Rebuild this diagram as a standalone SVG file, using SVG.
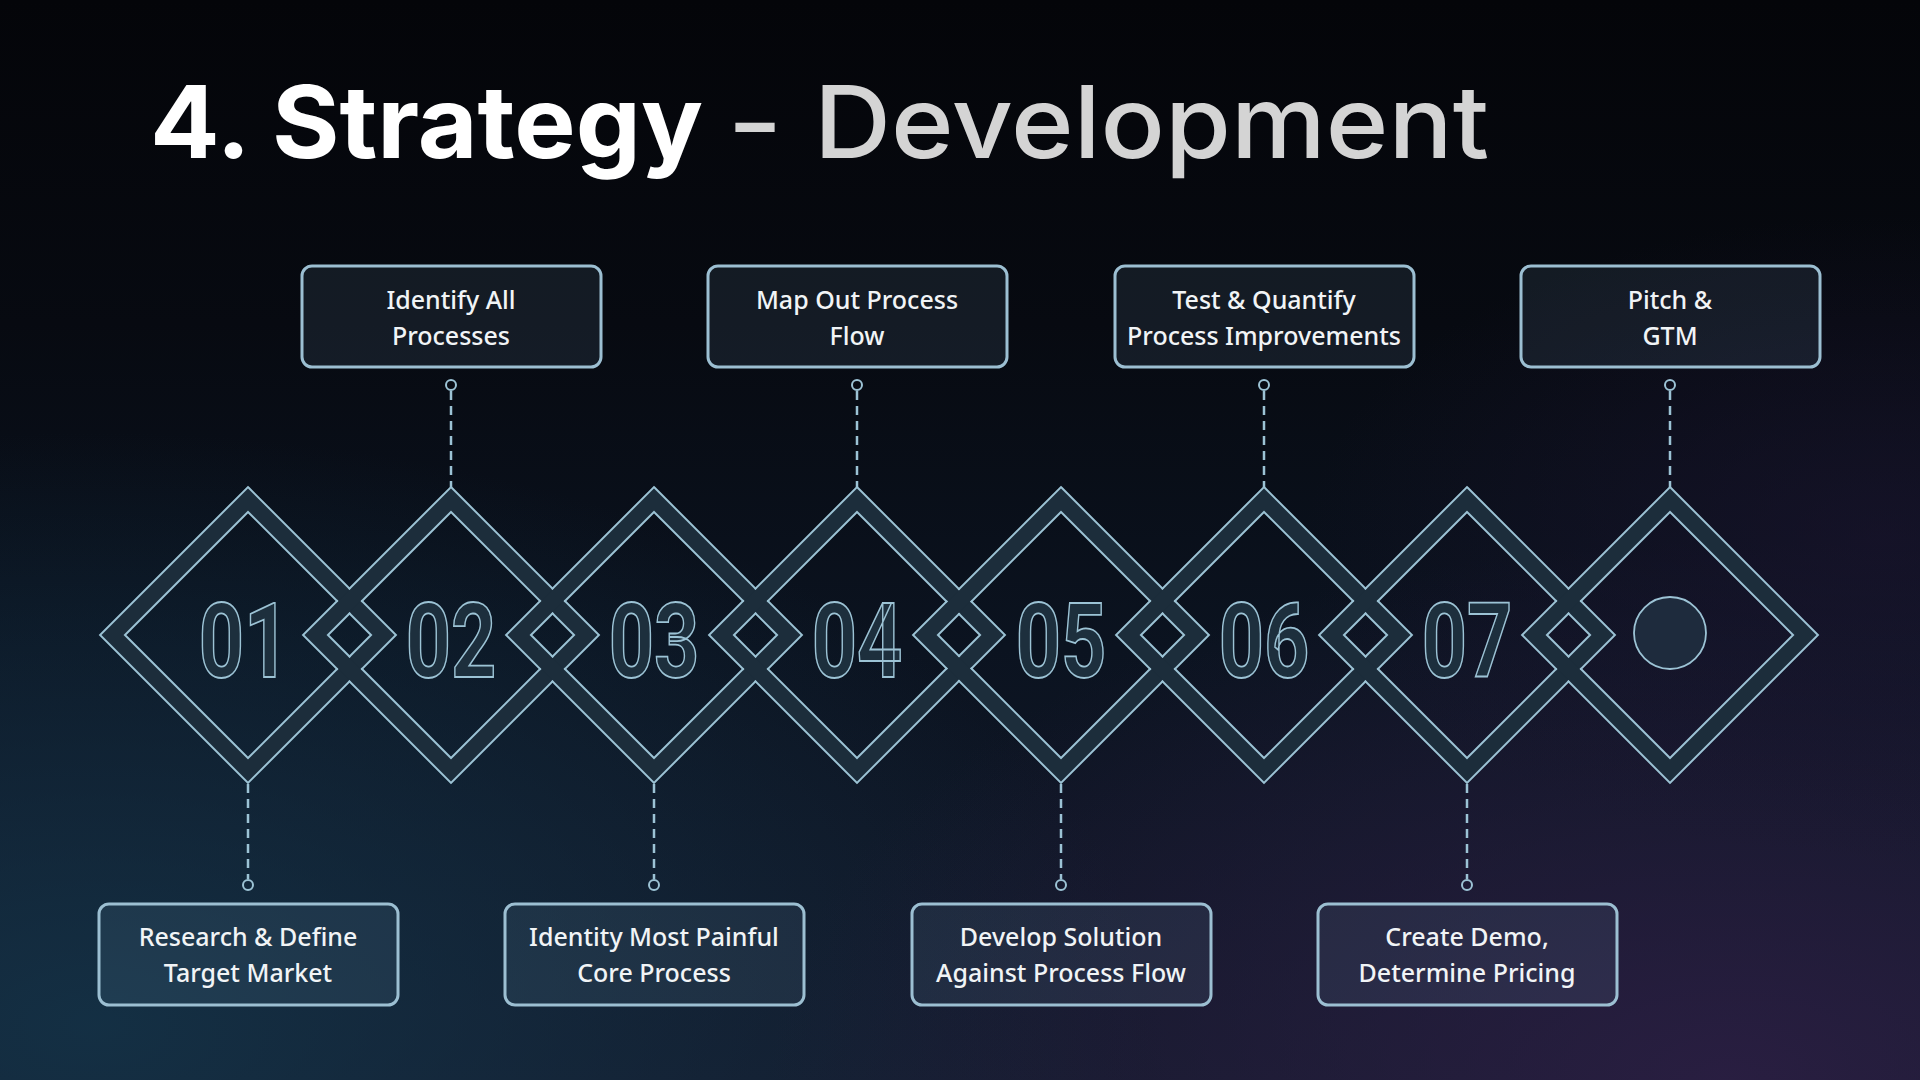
<svg xmlns="http://www.w3.org/2000/svg" width="1920" height="1080" viewBox="0 0 1920 1080">
<defs>
  <linearGradient id="bg" x1="0" y1="0" x2="0" y2="1">
    <stop offset="0" stop-color="#040509"/>
    <stop offset="0.3" stop-color="#070a11"/>
    <stop offset="0.6" stop-color="#0b1320"/>
    <stop offset="1" stop-color="#141a2c"/>
  </linearGradient>
  <radialGradient id="teal" cx="0.05" cy="0.95" r="0.55">
    <stop offset="0" stop-color="#14354a" stop-opacity="0.8"/>
    <stop offset="1" stop-color="#14354a" stop-opacity="0"/>
  </radialGradient>
  <radialGradient id="purple" cx="0.9" cy="1" r="0.5">
    <stop offset="0" stop-color="#2e1f46" stop-opacity="0.8"/>
    <stop offset="1" stop-color="#2e1f46" stop-opacity="0"/>
  </radialGradient>
  <radialGradient id="purple2" cx="0.98" cy="0.5" r="0.3">
    <stop offset="0" stop-color="#1c1430" stop-opacity="0.6"/>
    <stop offset="1" stop-color="#1c1430" stop-opacity="0"/>
  </radialGradient>
  <path id="band" fill-rule="evenodd" d="M0,-146.5 L146.5,0 L0,146.5 L-146.5,0 Z M0,-124.5 L124.5,0 L0,124.5 L-124.5,0 Z"/>
  <mask id="offband" maskUnits="userSpaceOnUse" x="0" y="0" width="1920" height="1080">
    <rect width="1920" height="1080" fill="#fff"/>
    <g fill="#000">
      <use href="#band" x="248" y="635"/>
      <use href="#band" x="451" y="635"/>
      <use href="#band" x="654" y="635"/>
      <use href="#band" x="857" y="635"/>
      <use href="#band" x="1061" y="635"/>
      <use href="#band" x="1264" y="635"/>
      <use href="#band" x="1467" y="635"/>
      <use href="#band" x="1670" y="635"/>
    </g>
  </mask>
  <style>
    .ringfill { fill:#1c2d3b; }
    .ringline { fill:none; stroke:#9cc3d5; stroke-width:4; }
    .num { font-family:Roboto,"Noto Sans",sans-serif; font-weight:700; font-size:104px; fill:#1d2f3d; stroke:#9cc3d5; stroke-width:1.8; text-anchor:middle; }
    .box { fill:#8cbcd4; fill-opacity:0.1; stroke:#9cbfd2; stroke-width:3; }
    .lbl { font-family:"Noto Sans","Open Sans",sans-serif; font-size:25px; font-weight:500; fill:#f1f4f6; text-anchor:middle; }
    .dash { fill:none; stroke:#9cc3d5; stroke-width:2.5; stroke-dasharray:9 6; }
    .pin { fill:none; stroke:#9cc3d5; stroke-width:2; }
    .t1 { font-family:Inter,"Noto Sans",sans-serif; font-weight:700; font-size:100px; fill:#ffffff; }
    .t2 { font-family:Inter,"Noto Sans",sans-serif; font-weight:500; font-size:100px; fill:#d4d4d4; }
  </style>
</defs>

<rect width="1920" height="1080" fill="url(#bg)"/>
<rect width="1920" height="1080" fill="url(#teal)"/>
<rect width="1920" height="1080" fill="url(#purple)"/>
<rect width="1920" height="1080" fill="url(#purple2)"/>

<g id="title">
  <text class="t1" x="150" y="158" textLength="553" lengthAdjust="spacingAndGlyphs">4. Strategy</text>
  <text class="t2" x="727" y="158" textLength="56" lengthAdjust="spacingAndGlyphs">-</text>
  <text class="t2" x="814" y="158" textLength="675" lengthAdjust="spacingAndGlyphs">Development</text>
</g>

<g id="connectors">
  <line class="dash" x1="451" y1="391" x2="451" y2="487"/>
  <circle class="pin" cx="451" cy="385" r="5"/>
  <line class="dash" x1="857" y1="391" x2="857" y2="487"/>
  <circle class="pin" cx="857" cy="385" r="5"/>
  <line class="dash" x1="1264" y1="391" x2="1264" y2="487"/>
  <circle class="pin" cx="1264" cy="385" r="5"/>
  <line class="dash" x1="1670" y1="391" x2="1670" y2="487"/>
  <circle class="pin" cx="1670" cy="385" r="5"/>
  <line class="dash" x1="248" y1="784" x2="248" y2="879"/>
  <circle class="pin" cx="248" cy="885" r="5"/>
  <line class="dash" x1="654" y1="784" x2="654" y2="879"/>
  <circle class="pin" cx="654" cy="885" r="5"/>
  <line class="dash" x1="1061" y1="784" x2="1061" y2="879"/>
  <circle class="pin" cx="1061" cy="885" r="5"/>
  <line class="dash" x1="1467" y1="784" x2="1467" y2="879"/>
  <circle class="pin" cx="1467" cy="885" r="5"/>
</g>

<g id="step-01">
  <use href="#band" x="248" y="635" class="ringfill"/>
  <g mask="url(#offband)"><use href="#band" x="248" y="635" class="ringline"/></g>
  <text class="num" transform="translate(244,677) scale(0.76,1)">01</text>
</g>
<g id="step-02">
  <use href="#band" x="451" y="635" class="ringfill"/>
  <g mask="url(#offband)"><use href="#band" x="451" y="635" class="ringline"/></g>
  <text class="num" transform="translate(451,677) scale(0.76,1)">02</text>
</g>
<g id="step-03">
  <use href="#band" x="654" y="635" class="ringfill"/>
  <g mask="url(#offband)"><use href="#band" x="654" y="635" class="ringline"/></g>
  <text class="num" transform="translate(654,677) scale(0.76,1)">03</text>
</g>
<g id="step-04">
  <use href="#band" x="857" y="635" class="ringfill"/>
  <g mask="url(#offband)"><use href="#band" x="857" y="635" class="ringline"/></g>
  <text class="num" transform="translate(857,677) scale(0.76,1)">04</text>
</g>
<g id="step-05">
  <use href="#band" x="1061" y="635" class="ringfill"/>
  <g mask="url(#offband)"><use href="#band" x="1061" y="635" class="ringline"/></g>
  <text class="num" transform="translate(1061,677) scale(0.76,1)">05</text>
</g>
<g id="step-06">
  <use href="#band" x="1264" y="635" class="ringfill"/>
  <g mask="url(#offband)"><use href="#band" x="1264" y="635" class="ringline"/></g>
  <text class="num" transform="translate(1264,677) scale(0.76,1)">06</text>
</g>
<g id="step-07">
  <use href="#band" x="1467" y="635" class="ringfill"/>
  <g mask="url(#offband)"><use href="#band" x="1467" y="635" class="ringline"/></g>
  <text class="num" transform="translate(1467,677) scale(0.76,1)">07</text>
</g>
<g id="step-08">
  <use href="#band" x="1670" y="635" class="ringfill"/>
  <g mask="url(#offband)"><use href="#band" x="1670" y="635" class="ringline"/></g>
  <circle cx="1670" cy="633" r="36" fill="#1e2b3d" stroke="#9cc3d5" stroke-width="1.8"/>
</g>

<g id="label-02">
  <rect class="box" x="302" y="266" width="299" height="101" rx="10"/>
  <text class="lbl" x="451" y="309">Identify All</text>
  <text class="lbl" x="451" y="345">Processes</text>
</g>
<g id="label-04">
  <rect class="box" x="708" y="266" width="299" height="101" rx="10"/>
  <text class="lbl" x="857" y="309">Map Out Process</text>
  <text class="lbl" x="857" y="345">Flow</text>
</g>
<g id="label-06">
  <rect class="box" x="1115" y="266" width="299" height="101" rx="10"/>
  <text class="lbl" x="1264" y="309">Test &amp; Quantify</text>
  <text class="lbl" x="1264" y="345">Process Improvements</text>
</g>
<g id="label-08">
  <rect class="box" x="1521" y="266" width="299" height="101" rx="10"/>
  <text class="lbl" x="1670" y="309">Pitch &amp;</text>
  <text class="lbl" x="1670" y="345">GTM</text>
</g>
<g id="label-01">
  <rect class="box" x="99" y="904" width="299" height="101" rx="10"/>
  <text class="lbl" x="248" y="946">Research &amp; Define</text>
  <text class="lbl" x="248" y="982">Target Market</text>
</g>
<g id="label-03">
  <rect class="box" x="505" y="904" width="299" height="101" rx="10"/>
  <text class="lbl" x="654" y="946">Identity Most Painful</text>
  <text class="lbl" x="654" y="982">Core Process</text>
</g>
<g id="label-05">
  <rect class="box" x="912" y="904" width="299" height="101" rx="10"/>
  <text class="lbl" x="1061" y="946">Develop Solution</text>
  <text class="lbl" x="1061" y="982">Against Process Flow</text>
</g>
<g id="label-07">
  <rect class="box" x="1318" y="904" width="299" height="101" rx="10"/>
  <text class="lbl" x="1467" y="946">Create Demo,</text>
  <text class="lbl" x="1467" y="982">Determine Pricing</text>
</g>
</svg>
